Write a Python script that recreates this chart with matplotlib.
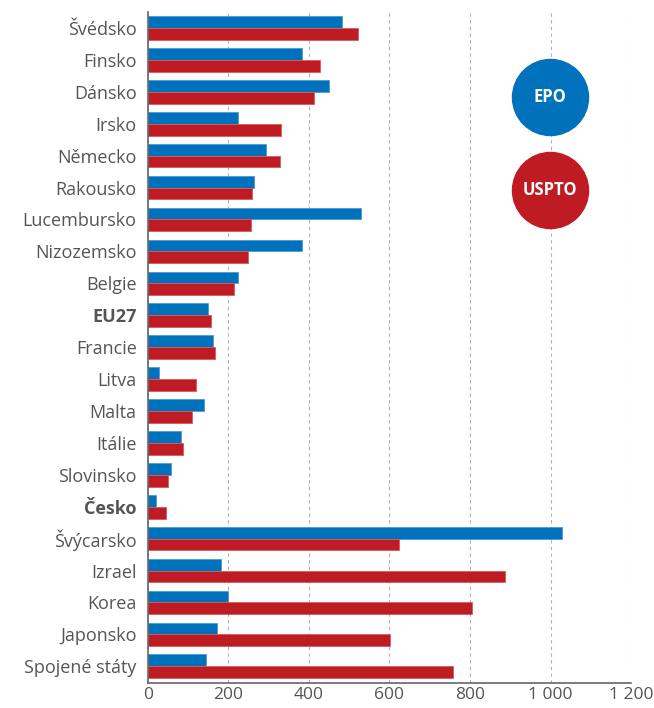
import matplotlib
matplotlib.use("Agg")
import matplotlib.pyplot as plt
import numpy as np

countries = ["Švédsko", "Finsko", "Dánsko", "Irsko", "Německo", "Rakousko",
             "Lucembursko", "Nizozemsko", "Belgie", "EU27", "Francie", "Litva",
             "Malta", "Itálie", "Slovinsko", "Česko", "Švýcarsko", "Izrael",
             "Korea", "Japonsko", "Spojené státy"]
epo = [481, 384, 451, 225, 294, 263, 530, 384, 224, 150, 162, 27, 139, 82,
       58, 21, 1028, 182, 200, 172, 144]
uspto = [523, 428, 413, 331, 329, 259, 257, 249, 213, 158, 167, 119, 110, 88,
         51, 45, 623, 887, 804, 602, 757]
bold_labels = ["EU27", "Česko"]
x_ticks = [0, 200, 400, 600, 800, 1000, 1200]
x_tick_labels = ["0", "200", "400", "600", "800", "1 000", "1 200"]

blue = "#0071bb"
red = "#be1b22"
grey = "#555555"

plt.rcParams["font.family"] = ["Open Sans", "DejaVu Sans"]

fig = plt.figure(figsize=(6.54, 7.08), dpi=100)
ax = fig.add_axes([0.226, 0.035, 0.739, 0.948])

y = np.arange(len(countries))
h = 0.37
ax.barh(y - h / 2, epo, height=h, color=blue, edgecolor="#4a9ad6", linewidth=0.6)
ax.barh(y + h / 2, uspto, height=h, color=red, edgecolor="#d9595e", linewidth=0.6)

ax.set_ylim(len(countries) - 0.47, -0.5)
ax.set_xlim(0, 1200)
ax.set_yticks(y)
ax.set_yticklabels(countries, fontsize=13, color=grey)
for lab in ax.get_yticklabels():
    if lab.get_text() in bold_labels:
        lab.set_fontweight("bold")
ax.set_xticks(x_ticks)
ax.set_xticklabels(x_tick_labels, fontsize=12.5, color=grey)
ax.tick_params(axis="y", length=0, pad=8)
ax.tick_params(axis="x", length=0, pad=3)

ax.grid(axis="x", color="#b0b0b0", linestyle=(0, (3, 3)), linewidth=0.8)
ax.set_axisbelow(True)
for s in ["top", "right"]:
    ax.spines[s].set_visible(False)
ax.spines["left"].set_color("#666666")
ax.spines["bottom"].set_color("#666666")
ax.spines["left"].set_linewidth(1.2)
ax.spines["bottom"].set_linewidth(1.2)

# legend as circles
for yy, col, txt in [(0.873, blue, "EPO"), (0.735, red, "USPTO")]:
    ax.scatter([0.832], [yy], s=3000, color=col, transform=ax.transAxes,
               zorder=5, clip_on=False)
    ax.text(0.832, yy, txt, transform=ax.transAxes, color="white",
            fontsize=12, fontweight="bold", ha="center", va="center", zorder=6)

fig.savefig("out.png", dpi=100)
